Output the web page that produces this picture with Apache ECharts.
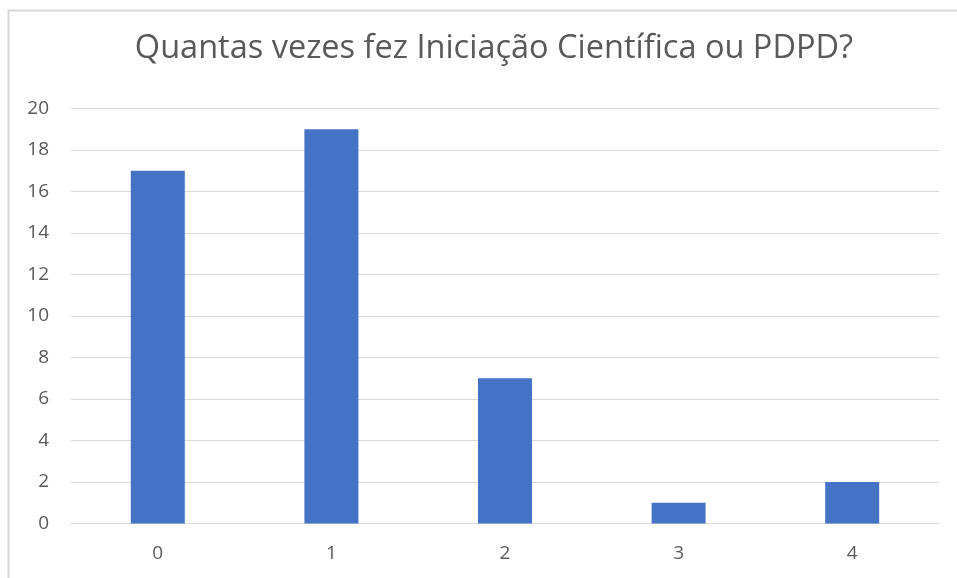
<!DOCTYPE html>
<html>
<head>
<meta charset="utf-8">
<script src="https://cdn.jsdelivr.net/npm/echarts@6/dist/echarts.min.js"></script>
<style>
  html, body { margin: 0; padding: 0; background: #fff; }
  #chart { width: 957px; height: 578px; }
</style>
</head>
<body>
<div id="chart"></div>
<script>
var categories = ['0', '1', '2', '3', '4'];
var counts = [17, 19, 7, 1, 2];

var dom = document.getElementById('chart');
var myChart = echarts.init(dom, null, { renderer: 'canvas' });

var option = {
    backgroundColor: '#ffffff',
    animation: false,
    title: {
        text: 'Quantas vezes fez Iniciação Científica ou PDPD?',
        left: 489,
        textAlign: 'center',
        top: 27,
        textStyle: {
            color: '#595959',
            fontFamily: 'Open Sans, sans-serif',
            fontWeight: 'normal',
            fontSize: 32.5
        }
    },
    graphic: [
        {
            type: 'polyline',
            shape: { points: [[8.5, 580], [8.5, 10.5], [960, 10.5]] },
            style: { stroke: '#d9d9d9', lineWidth: 2, fill: null },
            z: 0
        }
    ],
    grid: {
        left: 71,
        right: 18,
        top: 108.5,
        bottom: 54.5,
        containLabel: false
    },
    xAxis: {
        type: 'category',
        data: categories,
        axisLine: { lineStyle: { color: '#d9d9d9', width: 1 } },
        axisTick: { show: false },
        axisLabel: {
            color: '#595959',
            fontFamily: 'Open Sans, sans-serif',
            fontSize: 19,
            margin: 21
        }
    },
    yAxis: {
        type: 'value',
        min: 0,
        max: 20,
        interval: 2,
        axisLine: { show: false },
        axisTick: { show: false },
        splitLine: { lineStyle: { color: '#d9d9d9', width: 1 } },
        axisLabel: {
            color: '#595959',
            fontFamily: 'Open Sans, sans-serif',
            fontSize: 19,
            margin: 22
        }
    },
    series: [
        {
            type: 'bar',
            data: counts,
            barWidth: 54,
            itemStyle: { color: '#4472C4' }
        }
    ]
};

myChart.setOption(option);
window.addEventListener('resize', myChart.resize);
</script>
</body>
</html>
